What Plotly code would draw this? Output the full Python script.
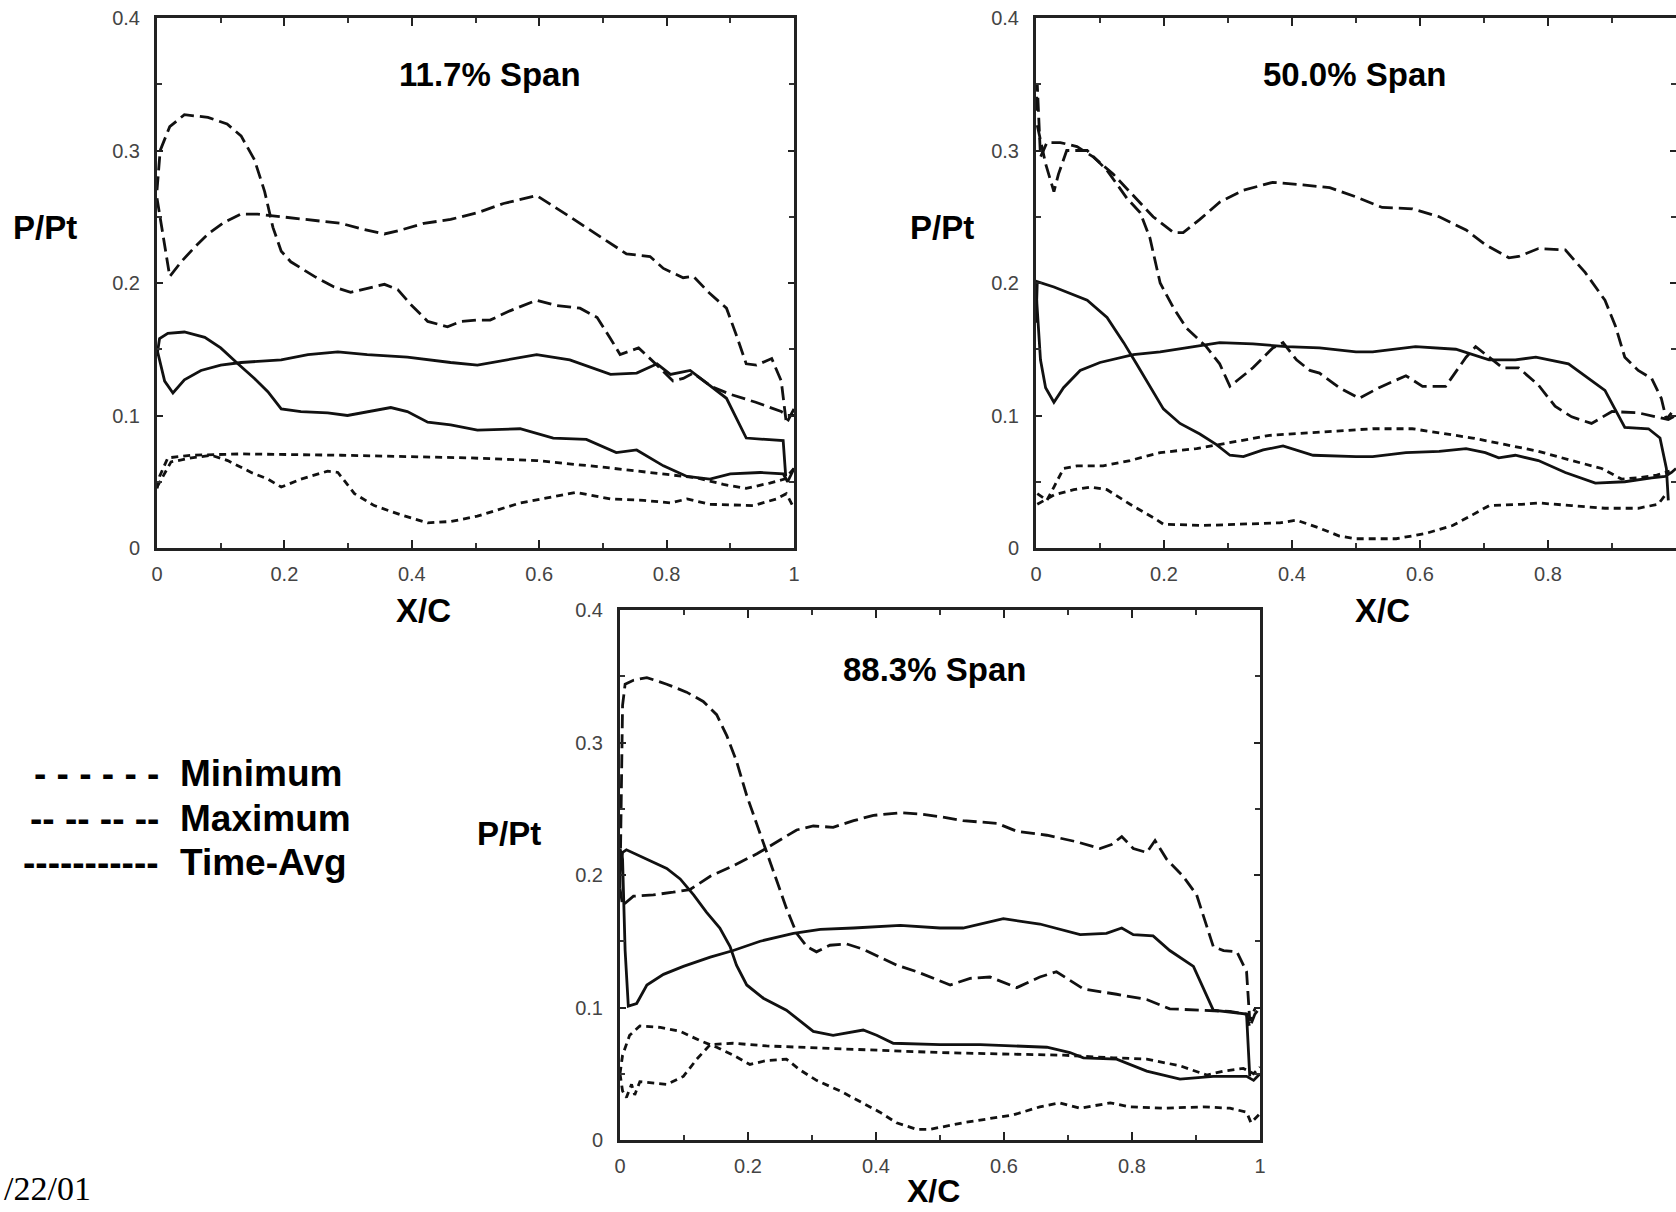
import plotly.graph_objects as go

# ---------------- data ----------------
# Panel 1: 11.7% span
p1_max_a_x = [0.0, 0.005, 0.02, 0.043, 0.08, 0.11, 0.132, 0.153, 0.169, 0.182, 0.195, 0.21, 0.247, 0.278, 0.304, 0.33, 0.357, 0.378, 0.398, 0.425, 0.456, 0.477, 0.503, 0.523, 0.554, 0.596, 0.628, 0.664, 0.691, 0.712, 0.727, 0.756, 0.785, 0.81, 0.826, 0.842, 0.87, 0.9, 0.94, 0.98, 0.99, 1.0]
p1_max_a_y = [0.27, 0.30, 0.318, 0.327, 0.325, 0.32, 0.311, 0.293, 0.269, 0.242, 0.224, 0.216, 0.205, 0.197, 0.193, 0.196, 0.199, 0.195, 0.184, 0.171, 0.167, 0.171, 0.172, 0.172, 0.179, 0.187, 0.183, 0.181, 0.174, 0.158, 0.146, 0.151, 0.138, 0.126, 0.128, 0.132, 0.122, 0.116, 0.11, 0.103, 0.1, 0.1]
p1_max_b_x = [0.0, 0.02, 0.038, 0.059, 0.08, 0.106, 0.132, 0.158, 0.195, 0.237, 0.289, 0.32, 0.357, 0.383, 0.419, 0.461, 0.503, 0.544, 0.596, 0.648, 0.7, 0.737, 0.774, 0.795, 0.826, 0.842, 0.868, 0.894, 0.91, 0.925, 0.941, 0.965, 0.98, 0.988, 1.0]
p1_max_b_y = [0.264, 0.205, 0.216, 0.227, 0.237, 0.246, 0.252, 0.252, 0.25, 0.248, 0.245, 0.241, 0.237, 0.24, 0.245, 0.248, 0.253, 0.26, 0.266, 0.25, 0.234, 0.222, 0.22, 0.211, 0.204, 0.205, 0.192, 0.181, 0.16, 0.139, 0.138, 0.143, 0.126, 0.094, 0.105]
p1_avg_a_x = [0.0, 0.004, 0.017, 0.043, 0.075, 0.1, 0.127, 0.153, 0.174, 0.195, 0.226, 0.268, 0.299, 0.33, 0.367, 0.393, 0.425, 0.461, 0.503, 0.57, 0.622, 0.674, 0.721, 0.753, 0.795, 0.832, 0.868, 0.9, 0.947, 0.983, 0.99, 1.0]
p1_avg_a_y = [0.145, 0.158, 0.162, 0.163, 0.159, 0.151, 0.139, 0.128, 0.118, 0.105, 0.103, 0.102, 0.1, 0.103, 0.106, 0.103, 0.095, 0.093, 0.089, 0.09, 0.083, 0.082, 0.072, 0.074, 0.062, 0.054, 0.052, 0.056, 0.057, 0.056, 0.05, 0.06]
p1_avg_b_x = [0.0, 0.004, 0.012, 0.025, 0.043, 0.069, 0.1, 0.132, 0.195, 0.237, 0.284, 0.33, 0.393, 0.461, 0.503, 0.596, 0.648, 0.712, 0.753, 0.785, 0.806, 0.837, 0.858, 0.894, 0.925, 0.962, 0.983, 0.987]
p1_avg_b_y = [0.15, 0.142, 0.126, 0.117, 0.127, 0.134, 0.138, 0.14, 0.142, 0.146, 0.148, 0.146, 0.144, 0.14, 0.138, 0.146, 0.142, 0.131, 0.132, 0.139, 0.131, 0.134, 0.126, 0.113, 0.083, 0.082, 0.081, 0.054]
p1_min_a_x = [0.0, 0.004, 0.017, 0.054, 0.132, 0.289, 0.491, 0.596, 0.7, 0.779, 0.847, 0.889, 0.925, 0.962, 0.985, 1.0]
p1_min_a_y = [0.045, 0.054, 0.068, 0.07, 0.071, 0.07, 0.068, 0.066, 0.061, 0.057, 0.053, 0.048, 0.045, 0.049, 0.052, 0.06]
p1_min_b_x = [0.0, 0.022, 0.054, 0.085, 0.111, 0.148, 0.174, 0.195, 0.226, 0.268, 0.284, 0.31, 0.341, 0.383, 0.425, 0.461, 0.503, 0.57, 0.658, 0.712, 0.764, 0.806, 0.832, 0.868, 0.936, 0.972, 0.988, 1.0]
p1_min_b_y = [0.046, 0.065, 0.068, 0.07, 0.066, 0.057, 0.052, 0.046, 0.052, 0.058, 0.057, 0.041, 0.032, 0.025, 0.019, 0.02, 0.024, 0.034, 0.042, 0.037, 0.036, 0.034, 0.037, 0.033, 0.032, 0.037, 0.041, 0.03]

# Panel 2: 50.0% span
p2_max_a_x = [0.0, 0.002, 0.007, 0.017, 0.038, 0.064, 0.09, 0.121, 0.152, 0.183, 0.215, 0.23, 0.256, 0.287, 0.324, 0.37, 0.417, 0.459, 0.5, 0.541, 0.588, 0.63, 0.672, 0.702, 0.739, 0.754, 0.785, 0.827, 0.858, 0.889, 0.905, 0.92, 0.941, 0.962, 0.977, 0.985, 0.993]
p2_max_a_y = [0.33, 0.35, 0.295, 0.306, 0.306, 0.303, 0.295, 0.282, 0.266, 0.25, 0.238, 0.238, 0.248, 0.261, 0.27, 0.276, 0.274, 0.272, 0.265, 0.257, 0.256, 0.25, 0.24, 0.229, 0.219, 0.22, 0.226, 0.225, 0.208, 0.187, 0.168, 0.144, 0.134, 0.128, 0.113, 0.097, 0.102]
p2_max_b_x = [0.002, 0.015, 0.028, 0.035, 0.048, 0.08, 0.111, 0.142, 0.163, 0.178, 0.194, 0.215, 0.235, 0.266, 0.287, 0.303, 0.339, 0.37, 0.386, 0.407, 0.428, 0.443, 0.474, 0.505, 0.536, 0.578, 0.604, 0.64, 0.672, 0.687, 0.708, 0.729, 0.754, 0.785, 0.811, 0.837, 0.868, 0.9, 0.941, 0.972, 0.988, 1.0]
p2_max_b_y = [0.319, 0.29, 0.269, 0.282, 0.3, 0.3, 0.285, 0.264, 0.253, 0.234, 0.2, 0.181, 0.166, 0.152, 0.139, 0.122, 0.136, 0.151, 0.155, 0.142, 0.134, 0.132, 0.121, 0.113, 0.121, 0.13, 0.122, 0.122, 0.144, 0.152, 0.144, 0.136, 0.136, 0.123, 0.107, 0.099, 0.094, 0.103, 0.102, 0.099, 0.097, 0.1]
p2_avg_a_x = [0.0, 0.002, 0.028, 0.054, 0.08, 0.111, 0.137, 0.157, 0.183, 0.199, 0.225, 0.256, 0.282, 0.303, 0.324, 0.355, 0.386, 0.407, 0.433, 0.5, 0.526, 0.578, 0.63, 0.672, 0.702, 0.723, 0.749, 0.785, 0.827, 0.874, 0.92, 0.962, 0.983, 0.993, 1.0]
p2_avg_a_y = [0.17, 0.201, 0.197, 0.192, 0.187, 0.174, 0.155, 0.139, 0.118, 0.105, 0.094, 0.086, 0.078, 0.07, 0.069, 0.074, 0.077, 0.074, 0.07, 0.069, 0.069, 0.072, 0.073, 0.075, 0.072, 0.068, 0.07, 0.066, 0.057, 0.049, 0.05, 0.053, 0.054, 0.057, 0.06]
p2_avg_b_x = [0.0, 0.007, 0.015, 0.028, 0.043, 0.069, 0.1, 0.152, 0.194, 0.246, 0.287, 0.339, 0.391, 0.443, 0.5, 0.526, 0.593, 0.656, 0.708, 0.749, 0.781, 0.832, 0.889, 0.92, 0.957, 0.975, 0.985, 0.988]
p2_avg_b_y = [0.195, 0.142, 0.121, 0.11, 0.121, 0.134, 0.14, 0.146, 0.148, 0.152, 0.155, 0.154, 0.152, 0.151, 0.148, 0.148, 0.152, 0.15, 0.142, 0.142, 0.144, 0.139, 0.119, 0.091, 0.09, 0.083, 0.06, 0.036]
p2_min_a_x = [0.002, 0.017, 0.028, 0.043, 0.064, 0.105, 0.147, 0.194, 0.251, 0.298, 0.365, 0.428, 0.5, 0.526, 0.588, 0.63, 0.682, 0.734, 0.785, 0.837, 0.884, 0.915, 0.941, 0.97, 0.99]
p2_min_a_y = [0.041, 0.036, 0.046, 0.06, 0.062, 0.062, 0.066, 0.072, 0.075, 0.079, 0.085, 0.087, 0.089, 0.09, 0.09, 0.087, 0.083, 0.078, 0.073, 0.066, 0.06, 0.052, 0.053, 0.055, 0.058]
p2_min_b_x = [0.002, 0.028, 0.059, 0.085, 0.111, 0.147, 0.183, 0.199, 0.261, 0.339, 0.381, 0.407, 0.443, 0.474, 0.5, 0.516, 0.563, 0.609, 0.651, 0.682, 0.708, 0.759, 0.785, 0.837, 0.889, 0.941, 0.972, 0.985]
p2_min_b_y = [0.033, 0.04, 0.044, 0.046, 0.044, 0.033, 0.023, 0.018, 0.017, 0.018, 0.019, 0.021, 0.015, 0.009, 0.007, 0.007, 0.007, 0.011, 0.017, 0.025, 0.032, 0.033, 0.034, 0.032, 0.03, 0.03, 0.033, 0.041]

# Panel 3: 88.3% span
p3_max_a_x = [0.0, 0.004, 0.008, 0.021, 0.042, 0.073, 0.104, 0.13, 0.151, 0.167, 0.182, 0.198, 0.214, 0.229, 0.245, 0.26, 0.276, 0.292, 0.307, 0.328, 0.354, 0.38, 0.406, 0.432, 0.464, 0.5, 0.516, 0.547, 0.578, 0.62, 0.656, 0.682, 0.708, 0.724, 0.776, 0.823, 0.859, 0.911, 0.953, 0.979, 0.984, 0.992, 1.0]
p3_max_a_y = [0.19, 0.328, 0.344, 0.347, 0.349, 0.344, 0.338, 0.331, 0.321, 0.305, 0.286, 0.26, 0.238, 0.217, 0.196, 0.175, 0.156, 0.146, 0.142, 0.147, 0.148, 0.144, 0.138, 0.132, 0.127, 0.12, 0.117, 0.122, 0.123, 0.115, 0.123, 0.127, 0.119, 0.114, 0.11, 0.106, 0.099, 0.098, 0.097, 0.095, 0.085, 0.095, 0.1]
p3_max_b_x = [0.0, 0.004, 0.021, 0.052, 0.083, 0.109, 0.141, 0.177, 0.214, 0.245, 0.276, 0.302, 0.333, 0.365, 0.396, 0.438, 0.469, 0.5, 0.536, 0.589, 0.62, 0.667, 0.714, 0.75, 0.768, 0.784, 0.802, 0.823, 0.836, 0.854, 0.88, 0.901, 0.917, 0.927, 0.943, 0.964, 0.979, 0.984, 0.992]
p3_max_b_y = [0.19, 0.177, 0.184, 0.185, 0.187, 0.189, 0.199, 0.207, 0.216, 0.225, 0.234, 0.237, 0.236, 0.241, 0.245, 0.247, 0.246, 0.244, 0.241, 0.239, 0.233, 0.23, 0.225, 0.22, 0.223, 0.229, 0.22, 0.217, 0.226, 0.212, 0.199, 0.185, 0.162, 0.146, 0.143, 0.142, 0.127, 0.09, 0.099]
p3_avg_a_x = [0.0, 0.004, 0.01, 0.042, 0.073, 0.094, 0.115, 0.135, 0.156, 0.172, 0.182, 0.198, 0.224, 0.26, 0.281, 0.302, 0.333, 0.38, 0.401, 0.427, 0.5, 0.563, 0.667, 0.703, 0.724, 0.776, 0.823, 0.875, 0.927, 0.979, 0.99, 1.0]
p3_avg_a_y = [0.2, 0.217, 0.219, 0.212, 0.205, 0.197, 0.185, 0.172, 0.16, 0.146, 0.132, 0.117, 0.107, 0.098, 0.09, 0.082, 0.079, 0.083, 0.079, 0.073, 0.072, 0.072, 0.07, 0.066, 0.062, 0.061, 0.052, 0.046, 0.048, 0.048, 0.045, 0.05]
p3_avg_b_x = [0.0, 0.004, 0.008, 0.013, 0.026, 0.042, 0.068, 0.099, 0.141, 0.177, 0.219, 0.271, 0.313, 0.365, 0.438, 0.5, 0.536, 0.599, 0.656, 0.719, 0.76, 0.784, 0.802, 0.833, 0.859, 0.896, 0.927, 0.979, 0.984]
p3_avg_b_y = [0.22, 0.212, 0.143, 0.101, 0.103, 0.117, 0.125, 0.131, 0.138, 0.143, 0.15, 0.156, 0.159, 0.16, 0.162, 0.16, 0.16, 0.167, 0.163, 0.155, 0.156, 0.16, 0.155, 0.154, 0.143, 0.131, 0.098, 0.095, 0.048]
p3_min_a_x = [0.0, 0.004, 0.015, 0.031, 0.063, 0.094, 0.125, 0.151, 0.177, 0.203, 0.229, 0.26, 0.281, 0.307, 0.344, 0.375, 0.406, 0.432, 0.464, 0.484, 0.536, 0.615, 0.656, 0.687, 0.719, 0.766, 0.797, 0.849, 0.911, 0.953, 0.979, 0.986, 1.0]
p3_min_a_y = [0.05, 0.064, 0.079, 0.086, 0.085, 0.082, 0.075, 0.07, 0.064, 0.057, 0.06, 0.061, 0.053, 0.045, 0.037, 0.029, 0.021, 0.013, 0.008, 0.008, 0.013, 0.019, 0.025, 0.028, 0.024, 0.028, 0.025, 0.024, 0.025, 0.024, 0.021, 0.013, 0.02]
p3_min_b_x = [0.0, 0.004, 0.01, 0.018, 0.023, 0.031, 0.073, 0.099, 0.12, 0.141, 0.177, 0.229, 0.333, 0.5, 0.589, 0.693, 0.771, 0.823, 0.875, 0.917, 0.943, 0.974, 0.99, 1.0]
p3_min_b_y = [0.05, 0.037, 0.032, 0.042, 0.034, 0.044, 0.042, 0.048, 0.061, 0.072, 0.073, 0.071, 0.069, 0.066, 0.065, 0.064, 0.062, 0.061, 0.056, 0.049, 0.052, 0.054, 0.05, 0.055]

panel_titles = ["11.7% Span", "50.0% Span", "88.3% Span"]
y_tick_vals = [0, 0.1, 0.2, 0.3, 0.4]
y_tick_text = ["0", "0.1", "0.2", "0.3", "0.4"]
x_tick_vals = [0, 0.2, 0.4, 0.6, 0.8, 1.0]
x_tick_text = ["0", "0.2", "0.4", "0.6", "0.8", "1"]
legend_labels = ["Minimum", "Maximum", "Time-Avg"]
legend_symbols = ["- - - - - -", "-- -- -- --", "-----------"]
date_text = "/22/01"

# ---------------- figure ----------------
W, H = 1676, 1212
INK = "#111111"
MAX_DASH = "14px,6px"
MIN_DASH = "7px,5px"
LW = 2.8

def px(x):
    return x / W

def py(y):
    return 1 - y / H

panels = [
    dict(xd=[px(157), px(794)], yd=[py(548), py(18)]),
    dict(xd=[px(1036), 1.0], yd=[py(548), py(18)]),
    dict(xd=[px(620), px(1260)], yd=[py(1140), py(610)]),
]

series = [
    [(p1_max_a_x, p1_max_a_y, MAX_DASH), (p1_max_b_x, p1_max_b_y, MAX_DASH),
     (p1_avg_a_x, p1_avg_a_y, "solid"), (p1_avg_b_x, p1_avg_b_y, "solid"),
     (p1_min_a_x, p1_min_a_y, MIN_DASH), (p1_min_b_x, p1_min_b_y, MIN_DASH)],
    [(p2_max_a_x, p2_max_a_y, MAX_DASH), (p2_max_b_x, p2_max_b_y, MAX_DASH),
     (p2_avg_a_x, p2_avg_a_y, "solid"), (p2_avg_b_x, p2_avg_b_y, "solid"),
     (p2_min_a_x, p2_min_a_y, MIN_DASH), (p2_min_b_x, p2_min_b_y, MIN_DASH)],
    [(p3_max_a_x, p3_max_a_y, MAX_DASH), (p3_max_b_x, p3_max_b_y, MAX_DASH),
     (p3_avg_a_x, p3_avg_a_y, "solid"), (p3_avg_b_x, p3_avg_b_y, "solid"),
     (p3_min_a_x, p3_min_a_y, MIN_DASH), (p3_min_b_x, p3_min_b_y, MIN_DASH)],
]

fig = go.Figure()
tick_font = dict(family="Liberation Sans, Arial, sans-serif", size=20, color="#444444")

layout_axes = {}
for i, (p, ser) in enumerate(zip(panels, series)):
    n = "" if i == 0 else str(i + 1)
    for xs, ys, dash in ser:
        fig.add_trace(go.Scatter(
            x=xs, y=ys, mode="lines", xaxis="x" + n, yaxis="y" + n,
            line=dict(color=INK, width=LW, dash=dash), showlegend=False,
            hoverinfo="skip"))
    xtv = x_tick_vals if i != 1 else x_tick_vals[:-1]
    xtt = x_tick_text if i != 1 else x_tick_text[:-1]
    layout_axes["xaxis" + n] = dict(
        domain=p["xd"], range=[0, 1], anchor="y" + n, automargin=False,
        tickvals=xtv, ticktext=xtt, ticks="inside", ticklen=8, tickwidth=2,
        tickcolor="#222222", showline=True, linecolor="#222222", linewidth=3,
        mirror="ticks", showgrid=False, zeroline=False, tickfont=tick_font,
        ticklabelstandoff=6,
        minor=dict(dtick=0.1, ticks="inside", ticklen=5, tickwidth=1.5, tickcolor="#333333", showgrid=False),
    )
    layout_axes["yaxis" + n] = dict(
        domain=p["yd"], range=[0, 0.4], anchor="x" + n, automargin=False,
        tickvals=y_tick_vals, ticktext=y_tick_text, ticks="inside", ticklen=6, tickwidth=2,
        tickcolor="#222222", showline=True, linecolor="#222222", linewidth=3,
        mirror="ticks", showgrid=False, zeroline=False, tickfont=tick_font,
        ticklabelstandoff=10,
        minor=dict(dtick=0.05, ticks="inside", ticklen=5, tickwidth=1.5, tickcolor="#333333", showgrid=False),
    )

annotations = []

def add_text(text, x, y, size=33, xanchor="center", family="Liberation Sans, Arial, sans-serif", bold=True):
    annotations.append(dict(
        text=("<b>%s</b>" % text) if bold else text,
        x=px(x), y=py(y), xref="paper", yref="paper",
        xanchor=xanchor, yanchor="middle", showarrow=False,
        font=dict(family=family, size=size, color="#000000")))

# panel titles
add_text(panel_titles[0], 490, 74)
add_text(panel_titles[1], 1354, 74)
add_text(panel_titles[2], 934, 669)
# axis labels
add_text("P/Pt", 45, 227)
add_text("P/Pt", 942, 227)
add_text("P/Pt", 509, 834)
add_text("X/C", 424, 610)
add_text("X/C", 1382, 610)
add_text("X/C", 933, 1191, size=32)
# legend (text-based, as in the reference)
for k, yy in enumerate([773, 818, 862]):
    add_text(legend_symbols[k], 161, yy, size=37, xanchor="right")
    add_text(legend_labels[k], 178, yy, size=37, xanchor="left")
# date stamp
add_text(date_text, 2, 1188, size=34, xanchor="left",
         family="Liberation Serif, Times New Roman, serif", bold=False)

fig.update_layout(
    width=W, height=H, margin=dict(l=0, r=0, t=0, b=0, autoexpand=False),
    paper_bgcolor="white", plot_bgcolor="white", showlegend=False,
    annotations=annotations, **layout_axes)

fig.write_html("out.html")
